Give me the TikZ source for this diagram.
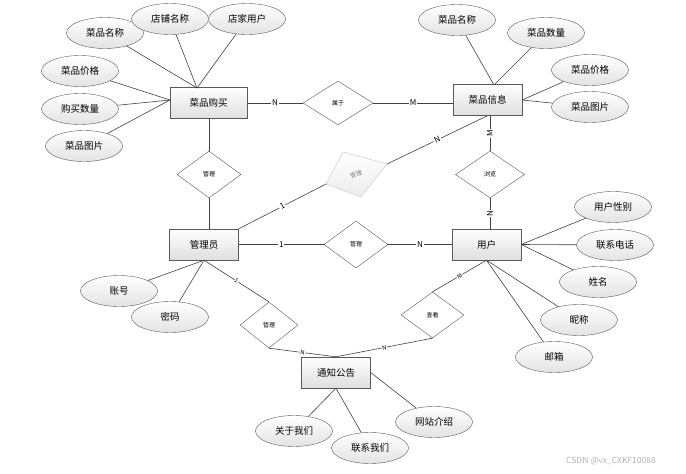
\documentclass[tikz,border=0pt]{standalone}
\usepackage{fontspec}
\setmainfont{Noto Sans CJK SC}
\usetikzlibrary{shapes.geometric}

\begin{document}
\begin{tikzpicture}[x=1pt, y=-1pt,
ent/.style={draw=gray!70!black, top color=white, bottom color=gray!25, minimum width=69pt, minimum height=31pt, inner sep=0pt, font=\fontsize{9.5}{10}\selectfont},
attr/.style={ellipse, draw=gray!70!black, top color=white, bottom color=gray!22, minimum width=77pt, minimum height=31pt, inner sep=0pt, font=\fontsize{9.5}{10}\selectfont},
rel/.style={diamond, draw=gray!70!black, fill=white, inner sep=0pt, font=\fontsize{6}{6}\selectfont},
link/.style={draw=gray!50!black, line width=0.6pt},
lab/.style={fill=white, inner sep=1pt, font=\fontsize{8}{8}\selectfont},
slab/.style={fill=white, inner sep=0.5pt, font=\fontsize{6}{6}\selectfont}]
\useasboundingbox (0,0) rectangle (686,474);
% entities
\node [ent, minimum width=77pt] (buy) at (208.5,103) {菜品购买};
\node [ent] (info) at (487.5,100) {菜品信息};
\node [ent] (admin) at (204,244.5) {管理员};
\node [ent] (user) at (486.5,244.5) {用户};
\node [ent] (notice) at (336,372.5) {通知公告};
% relations
\node [rel, minimum width=70pt, minimum height=44pt] (belong) at (338,103) {属于};
\node [rel, minimum width=64pt, minimum height=47pt] (manbuy) at (209,174.5) {管理};
\node [rel, minimum width=69pt, minimum height=47pt] (browse) at (490,174.5) {浏览};
\node [rel, minimum width=64pt, minimum height=47pt] (manuser) at (356,244.5) {管理};
\node [rel, minimum width=58pt, minimum height=46pt] (mannote) at (269,325) {管理};
\node [rel, minimum width=63pt, minimum height=46pt] (view) at (432.5,315) {查看};
\draw [draw=gray!45, top color=white, bottom color=gray!15] (343,152) coordinate (gt) -- (387,164) coordinate (gr) -- (361,197) coordinate (gb) -- (326,184) coordinate (gl) -- cycle;
\node [rotate=20, text=gray, font=\fontsize{6}{6}\selectfont] (mangoods) at (356,174) {管理};
% attributes
\node [attr] (bname) at (105,33) {菜品名称};
\node [attr] (shop) at (170,19) {店铺名称};
\node [attr] (owner) at (247,19) {店家用户};
\node [attr] (bprice) at (80,71) {菜品价格};
\node [attr] (bnum) at (80,109) {购买数量};
\node [attr] (bpic) at (84,146) {菜品图片};
\node [attr] (iname) at (457,20) {菜品名称};
\node [attr] (inum) at (546,33) {菜品数量};
\node [attr] (iprice) at (590,70) {菜品价格};
\node [attr] (ipic) at (590,107) {菜品图片};
\node [attr] (sex) at (613,207) {用户性别};
\node [attr] (tel) at (615,245) {联系电话};
\node [attr] (uname) at (598,282) {姓名};
\node [attr] (nick) at (579,320) {昵称};
\node [attr] (mail) at (554,357) {邮箱};
\node [attr] (acct) at (119,291) {账号};
\node [attr] (pwd) at (170,317) {密码};
\node [attr] (about) at (294,431) {关于我们};
\node [attr] (contact) at (370,448) {联系我们};
\node [attr] (site) at (434,422) {网站介绍};
\coordinate (buytop) at (197,88);
\coordinate (buyleft) at (170,100);
\coordinate (infotop) at (494,85);
% attribute links
\foreach \a in {bname, shop, owner} \draw [link] (\a) -- (buytop);
\foreach \a in {bprice, bnum, bpic} \draw [link] (\a) -- (buyleft);
\foreach \a in {iname, inum} \draw [link] (\a) -- (infotop);
\foreach \a in {iprice, ipic} \draw [link] (\a) -- (info.east);
\foreach \a in {sex, tel, uname} \draw [link] (\a) -- (user.east);
\foreach \a in {nick, mail} \draw [link] (\a) -- (user.south);
\foreach \a in {acct, pwd} \draw [link] (\a) -- (admin.south);
\foreach \a in {about, contact} \draw [link] (\a) -- (notice.south);
\draw [link] (site) -- (notice.east);
% relation links
\draw [link] (buy) -- node [lab] {N} (belong);
\draw [link] (belong) -- node [lab] {M} (belong -| info.west);
\draw [link] (manbuy.north) -- (manbuy.north |- buy.south);
\draw [link] (manbuy.south) -- (manbuy.south |- admin.north);
\draw [link] (admin.north east) -- node [lab, sloped] {1} (gl);
\draw [link] (gr) -- node [lab, sloped] {N} (info.south);
\draw [link] (browse.north) -- node [lab, rotate=90] {M} (browse.north |- info.south);
\draw [link] (browse.south) -- node [lab, rotate=90] {N} (browse.south |- user.north);
\draw [link] (admin) -- node [lab] {1} (manuser);
\draw [link] (manuser) -- node [lab] {N} (user);
\draw [link] (admin.south) -- node [slab, sloped] {1} (mannote.north);
\draw [link] (mannote.south) -- node [slab, sloped] {N} (notice.north);
\draw [link] (view.north) -- node [slab, sloped] {M} (user.south);
\draw [link] (view.south) -- node [slab, sloped] {N} (notice.north);
\node [text=gray!60, font=\fontsize{8.5}{9}\selectfont] (mark) at (611,461) {CSDN @vx\_CXKF10088};
\end{tikzpicture}
\end{document}
